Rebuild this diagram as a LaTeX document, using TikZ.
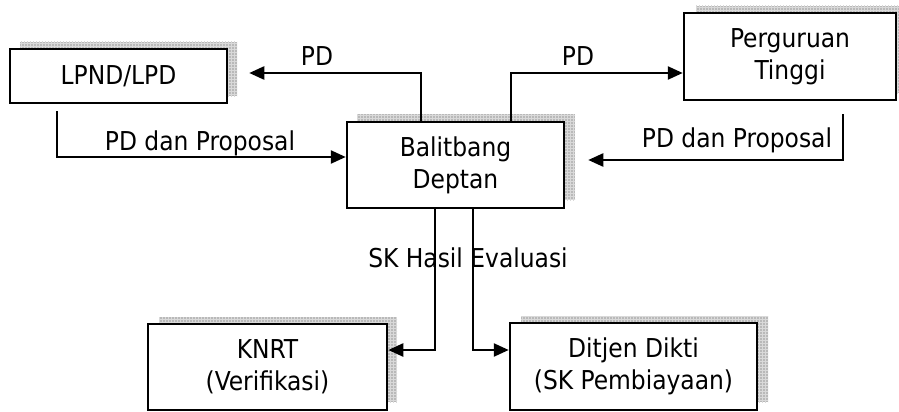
\documentclass[tikz,border=0pt]{standalone}
\usepackage{fontspec}
\setmainfont{DejaVu Sans Condensed}
\usetikzlibrary{arrows.meta,patterns}
\begin{document}
\begin{tikzpicture}[x=1pt,y=1pt,
  box/.style={draw,line width=2.5pt,fill=white,inner sep=0pt,align=center,
    font=\fontsize{26}{32}\selectfont},
  lbl/.style={font=\fontsize{26}{32}\selectfont,inner sep=0pt},
  arr/.style={line width=2.4pt,-{Triangle[length=15pt,width=13pt]}},
  shadowbox/.style={fill=gray!55},
  shadowgrid/.style={pattern=grid,pattern color=gray!30}]
\useasboundingbox (0,0) rectangle (899,-412);
% shadows
\foreach \a/\b in {{(20,-42)}/{(237,-96)},{(357,-114)}/{(575,-200)},{(696,-6)}/{(899,-93)},{(159,-317)}/{(397,-402)},{(521,-316)}/{(768,-402)}}{
  \fill[shadowbox] \a rectangle \b;
  \fill[shadowgrid] \a rectangle \b;
}
% boxes
\node[box,minimum width=217pt,minimum height=54pt] (lpnd) at (118.5,-76) {LPND/LPD};
\node[box,minimum width=217pt,minimum height=86pt] (bal) at (455.5,-165) {Balitbang\\Deptan};
\node[box,minimum width=212pt,minimum height=87pt] (pt) at (790,-56.5) {Perguruan\\Tinggi};
\node[box,minimum width=239pt,minimum height=86pt] (knrt) at (267.5,-367) {KNRT\\(Verifikasi)};
\node[box,minimum width=247pt,minimum height=87pt] (dit) at (633.5,-366.5) {Ditjen Dikti\\(SK Pembiayaan)};
% connectors
\coordinate (lpndin) at ([shift={(21,3)}]lpnd.east);
\draw[arr] ([xshift=-34.5]bal.north) |- (lpndin);
\draw[arr] ([xshift=55.5]bal.north) |- ([yshift=-16.5]pt.west);
\coordinate (lpndout) at ([shift={(-61.5,-7)}]lpnd.south);
\draw[arr] (lpndout) |- ([yshift=8]bal.west);
\coordinate (ptout) at ([shift={(53,-13)}]pt.south);
\coordinate (balin) at ([shift={(23,5)}]bal.east);
\draw[arr] (ptout) |- (balin);
\draw[arr] ([xshift=-20.5]bal.south) |- ([yshift=17]knrt.east);
\draw[arr] ([xshift=17.5]bal.south) |- ([yshift=16.5]dit.west);
% labels
\node[lbl] (l1) at (317,-56) {PD};
\node[lbl] (l2) at (578,-56) {PD};
\node[lbl] (l3) at (200,-143) {PD dan Proposal};
\node[lbl] (l4) at (737,-140) {PD dan Proposal};
\node[lbl] (l5) at (468,-258) {SK Hasil Evaluasi};
\end{tikzpicture}
\end{document}
